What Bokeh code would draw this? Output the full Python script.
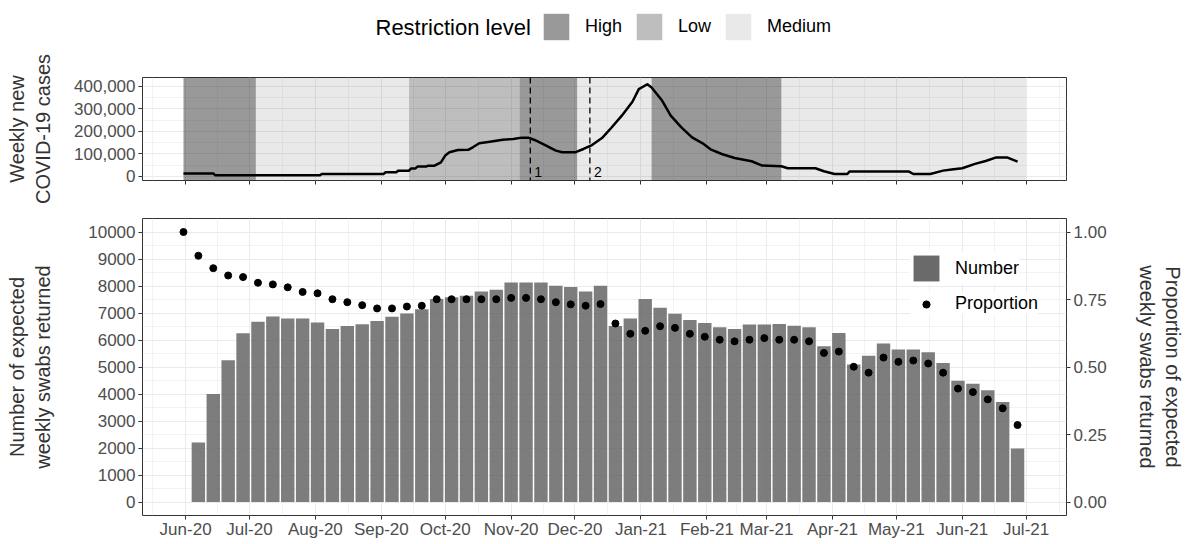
import numpy as np
import pandas as pd
from bokeh.plotting import figure
from bokeh.models import (ColumnDataSource, Range1d, LinearAxis, FixedTicker,
                          DatetimeTickFormatter, NumeralTickFormatter, Legend,
                          LegendItem, Span, Label)
from bokeh.layouts import column
from bokeh.embed import file_html
from bokeh.resources import INLINE
from bokeh.core.properties import value

# ---------------- data ----------------
# weekly survey (bottom panel), weeks starting 2020-05-31
swab_weeks = pd.date_range("2020-05-31", periods=57, freq="7D")
number_returned = [0, 2200, 4000, 5250, 6250, 6680, 6870, 6800, 6800, 6650,
                   6410, 6520, 6580, 6700, 6860, 6980, 7140, 7520, 7580, 7640,
                   7800, 7860, 8130, 8130, 8130, 8010, 7960, 7800, 8010, 6520,
                   6800, 7520, 7190, 6970, 6740, 6630, 6470, 6410, 6570, 6570,
                   6590, 6530, 6470, 5770, 6260, 5090, 5420, 5870, 5650, 5650,
                   5550, 5150, 4490, 4380, 4140, 3700, 1980]
proportion_returned = [1.000, 0.912, 0.866, 0.839, 0.833, 0.812, 0.806, 0.795, 0.778, 0.773,
                       0.751, 0.740, 0.729, 0.717, 0.717, 0.724, 0.727, 0.751, 0.751, 0.751,
                       0.751, 0.751, 0.756, 0.756, 0.751, 0.740, 0.732, 0.727, 0.733, 0.661,
                       0.623, 0.634, 0.651, 0.645, 0.623, 0.612, 0.601, 0.595, 0.601, 0.607,
                       0.601, 0.601, 0.595, 0.552, 0.557, 0.501, 0.479, 0.535, 0.519, 0.524,
                       0.513, 0.479, 0.420, 0.407, 0.380, 0.347, 0.285]

# restriction periods (top panel shading)
level_start = ["2020-05-31", "2020-07-04", "2020-09-14", "2020-11-05",
               "2020-12-02", "2021-01-06", "2021-03-08"]
level_end = ["2020-07-04", "2020-09-14", "2020-11-05", "2020-12-02",
             "2021-01-06", "2021-03-08", "2021-07-01"]
level_name = ["High", "Medium", "Low", "High", "Medium", "High", "Medium"]

# weekly new COVID-19 cases (top panel line)
case_dates = ["2020-05-31", "2020-06-14", "2020-06-15", "2020-08-03", "2020-08-04",
              "2020-09-02", "2020-09-03", "2020-09-08", "2020-09-09", "2020-09-14",
              "2020-09-15", "2020-09-17", "2020-09-18", "2020-09-22", "2020-09-23",
              "2020-09-26", "2020-09-29", "2020-10-01", "2020-10-03", "2020-10-07",
              "2020-10-12", "2020-10-14", "2020-10-17", "2020-10-22", "2020-10-28",
              "2020-11-02", "2020-11-06", "2020-11-09", "2020-11-12", "2020-11-17",
              "2020-11-22", "2020-11-25", "2020-12-01", "2020-12-05", "2020-12-09",
              "2020-12-14", "2020-12-18", "2020-12-23", "2020-12-28", "2020-12-31",
              "2021-01-04", "2021-01-06", "2021-01-11", "2021-01-15", "2021-01-20",
              "2021-01-25", "2021-01-30", "2021-02-03", "2021-02-08", "2021-02-14",
              "2021-02-22", "2021-02-27", "2021-03-08", "2021-03-11", "2021-03-24",
              "2021-03-28", "2021-04-02", "2021-04-08", "2021-04-09", "2021-05-07",
              "2021-05-09", "2021-05-17", "2021-05-23", "2021-05-27", "2021-06-01",
              "2021-06-07", "2021-06-12", "2021-06-17", "2021-06-22", "2021-06-27"]
case_values = [12000, 12000, 4000, 4000, 10000,
               10000, 18000, 18000, 25000, 25000,
               35000, 35000, 43000, 43000, 47000,
               47000, 62000, 92000, 107000, 117000,
               118500, 129000, 147000, 154000, 163000,
               166000, 172000, 172000, 161500, 139000,
               114000, 106700, 106700, 121500, 139000,
               173000, 215000, 270000, 332000, 388000,
               410000, 395600, 336000, 270000, 218000,
               173000, 146700, 118500, 99000, 81500,
               66700, 47400, 44400, 35600, 35600,
               22000, 10000, 10000, 20700, 20700,
               10000, 10000, 25000, 30000, 35600,
               55000, 68000, 84000, 84000, 65000]

event_dates = ["2020-11-10", "2020-12-08"]
event_labels = ["1", "2"]

month_ticks = pd.date_range("2020-05-01", "2021-08-01", freq="MS")

# ---------------- style ----------------
FONT = "Liberation Sans"
W = 1186
BORDER_L, BORDER_R = 142, 116
GRID = "#EBEBEB"
TICK_TXT = "#4D4D4D"
TITLE_TXT = "#333333"
LEVEL_ORDER = ["High", "Low", "Medium"]
LEVEL_ALPHA = {"High": 0.40, "Low": 0.255, "Medium": 0.085}

def ms(t):
    return pd.Timestamp(t).value / 1e6

major_ms = [ms(t) for t in month_ticks]
minor_ms = [(a + b) / 2 for a, b in zip(major_ms[:-1], major_ms[1:])]
fmt = "%b-%y"

def x_ticker():
    return FixedTicker(ticks=major_ms, minor_ticks=minor_ms)

def x_fmt():
    return DatetimeTickFormatter(milliseconds=fmt, seconds=fmt, minsec=fmt, minutes=fmt,
                                 hourmin=fmt, hours=fmt, days=fmt, months=fmt, years=fmt)

anchor = pd.Timestamp("2020-06-01")
xr = Range1d(anchor - pd.Timedelta(days=20.26), anchor + pd.Timedelta(days=414.0))

def style_common(p):
    p.outline_line_color = "#333333"
    p.outline_line_width = 1
    p.background_fill_color = "white"
    p.border_fill_color = "white"
    for g in p.grid:
        g.grid_line_color = GRID
        g.grid_line_width = 1
        g.minor_grid_line_color = GRID
        g.minor_grid_line_width = 0.6
    for ax in p.axis:
        ax.axis_line_color = None
        ax.major_tick_line_color = "#333333"
        ax.major_tick_out = 4
        ax.major_tick_in = 0
        ax.minor_tick_out = 0
        ax.minor_tick_in = 0
        ax.major_label_text_font = FONT
        ax.major_label_text_font_size = "17px"
        ax.major_label_text_color = TICK_TXT
        ax.major_label_standoff = 3
        ax.axis_label_text_font = FONT
        ax.axis_label_text_font_size = "20px"
        ax.axis_label_text_font_style = "normal"
        ax.axis_label_text_color = TITLE_TXT

def legend_common(**kw):
    base = dict(label_text_font=FONT, label_text_font_size="18px",
                label_text_color="black", label_standoff=13, margin=0,
                border_line_color=None)
    base.update(kw)
    return Legend(**base)

lvl_df = pd.DataFrame({"start": pd.to_datetime(level_start),
                       "end": pd.to_datetime(level_end),
                       "level": level_name})
TOP_Y0, TOP_Y1 = -19000, 440000
lvl_src = {}
for lvl in LEVEL_ORDER:
    sub = lvl_df[lvl_df.level == lvl]
    lvl_src[lvl] = ColumnDataSource(dict(left=sub.start.values, right=sub.end.values,
                                         bottom=[TOP_Y0] * len(sub),
                                         top=[TOP_Y1] * len(sub)))

# ---------------- legend strip (Restriction level) ----------------
# the strip has its own view window, so its copies of the shading only feed the legend keys
leg_fig = figure(width=W, height=50, x_range=Range1d(0, 1), y_range=Range1d(0, 1),
                 output_backend="svg", toolbar_location=None,
                 x_axis_location=None, y_axis_location=None,
                 min_border_left=0, min_border_right=0, min_border_top=0,
                 min_border_bottom=0)
leg_fig.outline_line_color = None
leg_fig.grid.visible = False
leg_items = []
for lvl in LEVEL_ORDER:
    r = leg_fig.quad(left="left", right="right", bottom="bottom", top="top",
                     source=lvl_src[lvl], fill_color="black",
                     fill_alpha=LEVEL_ALPHA[lvl], line_color=None)
    leg_items.append(LegendItem(label=lvl, renderers=[r]))
top_leg = legend_common(items=leg_items, orientation="horizontal",
                        glyph_width=32, glyph_height=33, spacing=11, padding=0,
                        background_fill_alpha=0, location=(398, 7))
leg_fig.add_layout(top_leg)
leg_fig.add_layout(Label(x=233, y=23.5, x_units="screen", y_units="screen",
                         text="Restriction level", text_font=FONT,
                         text_font_size="22px", text_color="black",
                         text_baseline="middle", text_align="left"))

# ---------------- top panel ----------------
top = figure(width=W, height=155, x_axis_type="datetime", x_range=xr,
             y_range=Range1d(TOP_Y0, TOP_Y1), output_backend="svg",
             toolbar_location=None, min_border_left=BORDER_L,
             min_border_right=BORDER_R, min_border_top=27, min_border_bottom=25)
top.xaxis.ticker = x_ticker()
top.xaxis.major_label_overrides = {m: "" for m in major_ms}
top.yaxis.ticker = FixedTicker(ticks=[0, 100000, 200000, 300000, 400000],
                               minor_ticks=[50000, 150000, 250000, 350000])
top.yaxis.formatter = NumeralTickFormatter(format="0,0")
top.yaxis.axis_label = "Weekly new\nCOVID-19 cases"
style_common(top)
top.xaxis.major_label_standoff = 0
top.yaxis.axis_label_standoff = 17

for lvl in LEVEL_ORDER:
    top.quad(left="left", right="right", bottom="bottom", top="top",
             source=lvl_src[lvl], fill_color="black",
             fill_alpha=LEVEL_ALPHA[lvl], line_color=None)

top.line(x=pd.to_datetime(case_dates), y=case_values, line_color="black",
         line_width=2.5, line_join="round")

for d in event_dates:
    top.add_layout(Span(location=ms(d), dimension="height", line_color="black",
                        line_dash="6 4", line_width=1.3))
ev_src = ColumnDataSource(dict(x=pd.to_datetime(event_dates),
                               y=np.zeros(len(event_dates)), t=event_labels))
top.text(x="x", y="y", text="t", source=ev_src, text_font=value(FONT),
         text_font_size="14px", text_align="left", text_baseline="middle",
         x_offset=4, y_offset=-4, text_color="black")

# ---------------- bottom panel ----------------
bot = figure(width=W, height=337, x_axis_type="datetime", x_range=xr,
             y_range=Range1d(-500, 10500), output_backend="svg",
             toolbar_location=None, min_border_left=BORDER_L,
             min_border_right=BORDER_R, min_border_top=13, min_border_bottom=27)
bot.extra_y_ranges = {"prop": Range1d(-0.05, 1.05)}
right_ax = LinearAxis(y_range_name="prop",
                      ticker=FixedTicker(ticks=[0, 0.25, 0.5, 0.75, 1.0]),
                      formatter=NumeralTickFormatter(format="0.00"),
                      axis_label="Proportion of expected\nweekly swabs returned")
bot.add_layout(right_ax, "right")
bot.xaxis.ticker = x_ticker()
bot.xaxis.formatter = x_fmt()
bot.yaxis[0].ticker = FixedTicker(ticks=list(range(0, 10001, 1000)),
                                  minor_ticks=list(range(500, 10000, 1000)))
bot.yaxis[0].formatter = NumeralTickFormatter(format="0")
bot.yaxis[0].axis_label = "Number of expected\nweekly swabs returned"
style_common(bot)
bot.xaxis.major_label_standoff = 0
bot.yaxis[0].axis_label_standoff = 31
right_ax.axis_label_standoff = 26

src = ColumnDataSource(dict(week=swab_weeks, number=number_returned,
                            prop=proportion_returned))
bars = bot.vbar(x="week", top="number", width=6.3 * 86400000, source=src,
                fill_color="#666666", fill_alpha=0.85, line_color=None)
dots = bot.scatter(x="week", y="prop", y_range_name="prop", source=src,
                   size=7, fill_color="black", line_color="black")

leg_num = legend_common(items=[LegendItem(label="Number", renderers=[bars, bars])],
                        glyph_width=32, glyph_height=32, padding=8,
                        background_fill_color="white", background_fill_alpha=1,
                        location=(768, 231))
leg_prop = legend_common(items=[LegendItem(label="Proportion", renderers=[dots])],
                         glyph_width=32, glyph_height=18, padding=8,
                         background_fill_color="white", background_fill_alpha=1,
                         location=(768, 201))
bot.add_layout(leg_num)
bot.add_layout(leg_prop)

layout = column(leg_fig, top, bot, spacing=0)
open("out.html", "w").write(file_html(layout, INLINE))
